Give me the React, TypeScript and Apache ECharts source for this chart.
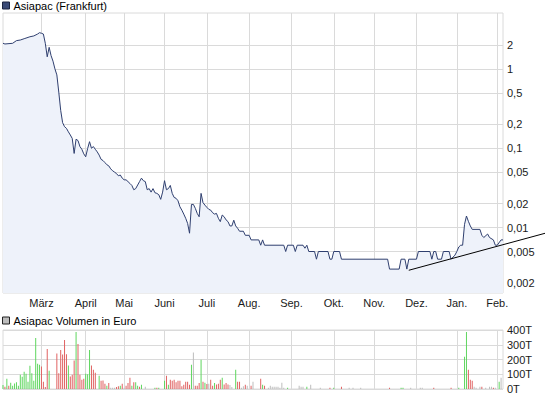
import React, { useEffect, useRef } from 'react';
import * as echarts from 'echarts';

const FONT = '"Liberation Sans", Arial, sans-serif';
const FIRST_DAY = '2010-02-01';
const LAST_DAY = '2011-02-04';
const HOLIDAYS = ['2010-04-02', '2010-04-05', '2010-12-24', '2010-12-31'];
const MONTH_NAMES = ['Jan.', 'Feb.', 'März', 'April', 'Mai', 'Juni', 'Juli', 'Aug.', 'Sep.', 'Okt.', 'Nov.', 'Dez.'];
const PRICE_TICKS = [2, 1, 0.5, 0.2, 0.1, 0.05, 0.02, 0.01, 0.005, 0.002];

const priceDates = [
  '2010-02-01', '2010-02-02', '2010-02-08', '2010-02-10', '2010-02-12', '2010-02-16', '2010-02-19', '2010-02-23', '2010-02-25', '2010-02-26',
  '2010-03-01', '2010-03-02', '2010-03-03', '2010-03-04', '2010-03-05', '2010-03-08', '2010-03-09', '2010-03-10', '2010-03-11', '2010-03-12',
  '2010-03-15', '2010-03-16', '2010-03-17', '2010-03-18', '2010-03-19', '2010-03-22', '2010-03-23', '2010-03-24', '2010-03-25', '2010-03-26',
  '2010-03-29', '2010-03-30', '2010-03-31', '2010-04-01', '2010-04-06', '2010-04-07', '2010-04-08', '2010-04-09', '2010-04-12', '2010-04-13',
  '2010-04-14', '2010-04-15', '2010-04-16', '2010-04-19', '2010-04-20', '2010-04-21', '2010-04-22', '2010-04-23', '2010-04-26', '2010-04-27',
  '2010-04-28', '2010-04-29', '2010-04-30', '2010-05-03', '2010-05-04', '2010-05-05', '2010-05-06', '2010-05-07', '2010-05-10', '2010-05-11',
  '2010-05-13', '2010-05-14', '2010-05-17', '2010-05-18', '2010-05-19', '2010-05-20', '2010-05-21', '2010-05-24', '2010-05-25', '2010-05-26',
  '2010-05-27', '2010-05-28', '2010-05-31', '2010-06-01', '2010-06-02', '2010-06-03', '2010-06-04', '2010-06-07', '2010-06-08', '2010-06-09',
  '2010-06-10', '2010-06-11', '2010-06-14', '2010-06-15', '2010-06-16', '2010-06-17', '2010-06-18', '2010-06-21', '2010-06-22', '2010-06-23',
  '2010-06-24', '2010-06-25', '2010-06-28', '2010-06-29', '2010-06-30', '2010-07-01', '2010-07-02', '2010-07-05', '2010-07-06', '2010-07-07',
  '2010-07-08', '2010-07-09', '2010-07-12', '2010-07-13', '2010-07-14', '2010-07-15', '2010-07-16', '2010-07-19', '2010-07-20', '2010-07-21',
  '2010-07-22', '2010-07-23', '2010-07-26', '2010-07-28', '2010-07-29', '2010-08-02', '2010-08-03', '2010-08-09', '2010-08-10', '2010-08-11',
  '2010-08-12', '2010-08-26', '2010-08-27', '2010-08-30', '2010-09-02', '2010-09-03', '2010-09-06', '2010-09-09', '2010-09-10', '2010-09-13',
  '2010-09-14', '2010-09-17', '2010-09-20', '2010-09-21', '2010-09-28', '2010-09-29', '2010-09-30', '2010-10-01', '2010-10-06', '2010-10-07',
  '2010-11-10', '2010-11-11', '2010-11-18', '2010-11-19', '2010-11-23', '2010-11-24', '2010-11-25', '2010-12-01', '2010-12-02', '2010-12-10',
  '2010-12-13', '2010-12-14', '2010-12-15', '2010-12-16', '2010-12-20', '2010-12-21', '2010-12-27', '2010-12-28', '2010-12-30', '2011-01-03',
  '2011-01-04', '2011-01-05', '2011-01-06', '2011-01-07', '2011-01-10', '2011-01-11', '2011-01-12', '2011-01-13', '2011-01-19', '2011-01-20',
  '2011-01-21', '2011-01-25', '2011-01-26', '2011-01-28', '2011-01-31', '2011-02-01', '2011-02-03', '2011-02-04',
];

const priceValues = [
  2.10, 2.06, 2.10, 2.27, 2.31, 2.40, 2.54, 2.60, 2.75, 2.86,
  2.81, 2.75, 2.10, 1.42, 1.87, 1.47, 1.25, 1.0, 0.84, 0.51,
  0.30, 0.21, 0.187, 0.178, 0.161, 0.147, 0.133, 0.086, 0.13, 0.125,
  0.105, 0.097, 0.085, 0.078, 0.099, 0.121, 0.10, 0.105, 0.097, 0.09,
  0.082, 0.0725, 0.07, 0.066, 0.062, 0.06, 0.055, 0.052, 0.05, 0.048,
  0.045, 0.046, 0.042, 0.04, 0.04, 0.038, 0.036, 0.034, 0.030, 0.031,
  0.038, 0.042, 0.039, 0.038, 0.030, 0.031, 0.028, 0.031, 0.0275, 0.027,
  0.026, 0.0227, 0.028, 0.039, 0.030, 0.031, 0.034, 0.027, 0.024, 0.0234,
  0.0218, 0.0183, 0.0166, 0.0148, 0.0131, 0.0113, 0.0085, 0.0196, 0.0196, 0.0175,
  0.0151, 0.0137, 0.027, 0.0206, 0.0192, 0.018, 0.017, 0.0166, 0.0154, 0.0148,
  0.0151, 0.0131, 0.0119, 0.0144, 0.0137, 0.0125, 0.0119, 0.0105, 0.0105, 0.0124,
  0.0105, 0.0098, 0.009, 0.009, 0.008, 0.008, 0.007, 0.007, 0.006, 0.007,
  0.006, 0.006, 0.005, 0.006, 0.006, 0.005, 0.006, 0.006, 0.0055, 0.006,
  0.005, 0.005, 0.004, 0.005, 0.005, 0.004, 0.004, 0.005, 0.005, 0.004,
  0.004, 0.003, 0.003, 0.004, 0.004, 0.003, 0.004, 0.004, 0.005, 0.005,
  0.004, 0.005, 0.005, 0.004, 0.004, 0.005, 0.005, 0.004, 0.0045, 0.005,
  0.0057, 0.006, 0.006, 0.011, 0.014, 0.012, 0.0105, 0.0095, 0.0095, 0.008,
  0.0075, 0.0083, 0.0075, 0.007, 0.006, 0.006, 0.007, 0.007,
];

// trend line: trading-day number (0 = first day) and price
const trendDayIndex = [211, 282];
const trendValues = [0.0029, 0.0085];

// volume in thousand euro per trading day
const volumeValues = [
  27, 16, 70, 22, 43, 22, 38, 45, 22, 97, 83, 117, 103, 49, 157, 106, 56, 346, 171, 164,
  153, 49, 13, 272, 124, 0, 0, 0, 240, 106, 265, 234, 333, 236, 160, 85, 97, 193, 386, 305,
  97, 63, 70, 103, 100, 265, 160, 130, 110, 0, 90, 56, 58, 36, 22, 40, 9, 9, 9, 13,
  18, 22, 36, 9, 22, 40, 76, 22, 45, 45, 22, 16, 29, 0, 16, 0, 0, 0, 0, 9,
  9, 9, 0, 0, 56, 90, 29, 63, 56, 63, 45, 56, 56, 18, 29, 49, 49, 29, 164, 247,
  22, 22, 40, 198, 49, 43, 34, 36, 63, 22, 40, 31, 36, 63, 76, 31, 40, 31, 27, 13,
  0, 130, 49, 49, 9, 18, 29, 22, 0, 22, 49, 0, 0, 0, 70, 29, 22, 0, 9, 22,
  16, 16, 16, 16, 9, 43, 9, 0, 9, 0, 0, 0, 0, 0, 22, 16, 16, 0, 16, 0,
  29, 0, 0, 0, 0, 9, 0, 0, 0, 0, 9, 0, 9, 0, 0, 0, 16, 0, 0, 0,
  9, 0, 9, 0, 0, 0, 9, 0, 0, 0, 0, 0, 0, 0, 0, 0, 0, 0, 0, 0,
  0, 9, 0, 0, 0, 0, 0, 9, 9, 0, 0, 0, 9, 0, 0, 0, 0, 9, 9, 0,
  0, 0, 0, 0, 9, 0, 0, 0, 0, 0, 0, 0, 0, 9, 0, 0, 0, 9, 0, 0,
  218, 386, 130, 63, 56, 16, 9, 0, 16, 16, 0, 9, 0, 16, 16, 9, 9, 0, 49, 76,
  0,
];
// g = up, r = down, n = unchanged, - = no trade
const volumeTrend = [
  'grgrgggggggggggggggg',
  'rrrrg---rrrrrrgrrrgr',
  'rrrgggrrr-grrrgrnnnr',
  'rgrnrrrgrggrg-n----g',
  'rg--grgrrrrrrrrrrrgn',
  'rrrgrgrnrrgrrrgrrrnn',
  '-grrnnrn-rn---rgr-nn',
  'nnnnnnn-g-----nnn-g-',
  'n----n----r-g---r---',
  'n-n---n-------------',
  '-r-----gg---n----nn-',
  '----r--------r---g--',
  'ggrrrnn-nr-n-nnrn-gn',
  '-',
].join('');

const TREND_COLORS: Record<string, string> = { g: '#5fd65f', r: '#e06262', n: '#bdbdbd', '-': '#bdbdbd' };

function tradingDays(first: string, last: string, holidays: string[]): string[] {
  const out: string[] = [];
  const d = new Date(first + 'T00:00:00Z');
  const end = new Date(last + 'T00:00:00Z');
  while (d <= end) {
    const wd = d.getUTCDay();
    const s = d.toISOString().slice(0, 10);
    if (wd !== 0 && wd !== 6 && holidays.indexOf(s) < 0) out.push(s);
    d.setUTCDate(d.getUTCDate() + 1);
  }
  return out;
}

export default function App() {
  const ref = useRef<HTMLDivElement>(null);

  useEffect(() => {
    if (!ref.current) return;
    const chart = echarts.init(ref.current, undefined, { renderer: 'svg' });
    const days = tradingDays(FIRST_DAY, LAST_DAY, HOLIDAYS);
    const monthStart = new Set<number>();
    days.forEach((d, i) => {
      if (i > 0 && d.slice(5, 7) !== days[i - 1].slice(5, 7)) monthStart.add(i);
    });
    const isMonthStart = (i: number) => monthStart.has(i);
    const gridColor = '#dadada';
    const textColor = '#1a1a1a';

    const option: any = {
      animation: false,
      legend: [
        {
          data: ['Asiapac (Frankfurt)'], left: 2, top: 0, padding: 0, itemWidth: 7, itemHeight: 7, itemGap: 4,
          icon: 'rect', selectedMode: false,
          itemStyle: { borderColor: '#1c2540', borderWidth: 1 },
          textStyle: { fontSize: 11, fontFamily: FONT, color: '#000', padding: [0, 0, 0, -1] },
        },
        {
          data: ['Asiapac Volumen in Euro'], left: 2, top: 315, padding: 0, itemWidth: 7, itemHeight: 7, itemGap: 4,
          icon: 'rect', selectedMode: false,
          itemStyle: { borderColor: '#222', borderWidth: 1 },
          textStyle: { fontSize: 11, fontFamily: FONT, color: '#000', padding: [0, 0, 0, -1] },
        },
      ],
      grid: [
        { left: 3, top: 13, width: 500, height: 280, show: true, borderColor: gridColor, borderWidth: 1 },
        { left: 3, top: 330, width: 500, height: 59, show: true, borderColor: gridColor, borderWidth: 1 },
      ],
      xAxis: [
        {
          type: 'category', gridIndex: 0, data: days, boundaryGap: false,
          axisLine: { show: false }, axisTick: { show: false },
          axisLabel: {
            interval: (i: number) => isMonthStart(i), margin: 4, fontSize: 11, fontFamily: FONT, color: textColor,
            formatter: (v: string) => MONTH_NAMES[parseInt(v.slice(5, 7), 10) - 1],
          },
          splitLine: { show: true, interval: (i: number) => isMonthStart(i), lineStyle: { color: gridColor, width: 1 } },
        },
        {
          type: 'category', gridIndex: 1, data: days, boundaryGap: false,
          axisLine: { show: false }, axisTick: { show: false }, axisLabel: { show: false },
          splitLine: { show: true, interval: (i: number) => isMonthStart(i), lineStyle: { color: gridColor, width: 1 } },
        },
        { type: 'value', gridIndex: 0, min: 0, max: days.length - 1, show: false },
      ],
      yAxis: [
        {
          type: 'log', gridIndex: 0, position: 'right', logBase: 10, min: 0.0015, max: 5.06,
          axisLine: { show: false },
          axisTick: { show: false, customValues: PRICE_TICKS },
          axisLabel: {
            customValues: PRICE_TICKS, margin: 4, fontSize: 11, fontFamily: FONT, color: textColor,
            formatter: (v: number) => String(parseFloat(Number(v).toPrecision(6))).replace('.', ','),
          },
          splitLine: { show: true, lineStyle: { color: gridColor, width: 1 } },
        },
        {
          type: 'value', gridIndex: 1, position: 'right', min: 0, max: 400, interval: 100,
          axisLine: { show: false }, axisTick: { show: false },
          axisLabel: { margin: 4, fontSize: 11, fontFamily: FONT, color: textColor, formatter: (v: number) => v + 'T' },
          splitLine: { show: true, lineStyle: { color: gridColor, width: 1 } },
        },
      ],
      series: [
        {
          name: 'Asiapac (Frankfurt)', type: 'line', xAxisIndex: 0, yAxisIndex: 0,
          data: priceDates.map((d, i) => [d, priceValues[i]]),
          symbol: 'none', lineStyle: { color: '#2f3f6f', width: 1 },
          itemStyle: { color: '#3a4a76' },
          areaStyle: { color: '#eef2fa', opacity: 1, origin: 'start' },
        },
        {
          name: 'Asiapac Volumen in Euro', type: 'bar', xAxisIndex: 1, yAxisIndex: 1, barWidth: 1,
          itemStyle: { color: '#bdbdbd' },
          data: volumeValues.map((v, i) => (v > 0 ? { value: v, itemStyle: { color: TREND_COLORS[volumeTrend[i]] } } : '-')),
        },
      ],
    };
    chart.setOption(option);

    // trend line: endpoints converted to pixels through the chart's own axes (it runs past the plot edge)
    const finder = { xAxisIndex: 2, yAxisIndex: 0 };
    const p1 = chart.convertToPixel(finder as any, [trendDayIndex[0], trendValues[0]]) as number[];
    const p2 = chart.convertToPixel(finder as any, [trendDayIndex[1], trendValues[1]]) as number[];
    if (p1 && p2) {
      chart.setOption({
        graphic: [
          {
            type: 'line', silent: true, z: 10,
            shape: { x1: p1[0], y1: p1[1], x2: p2[0], y2: p2[1] },
            style: { stroke: '#000', lineWidth: 1 },
          },
        ],
      });
    }
    return () => chart.dispose();
  }, []);

  return <div ref={ref} style={{ position: 'absolute', left: 0, top: 0, width: 545, height: 398 }} />;
}
